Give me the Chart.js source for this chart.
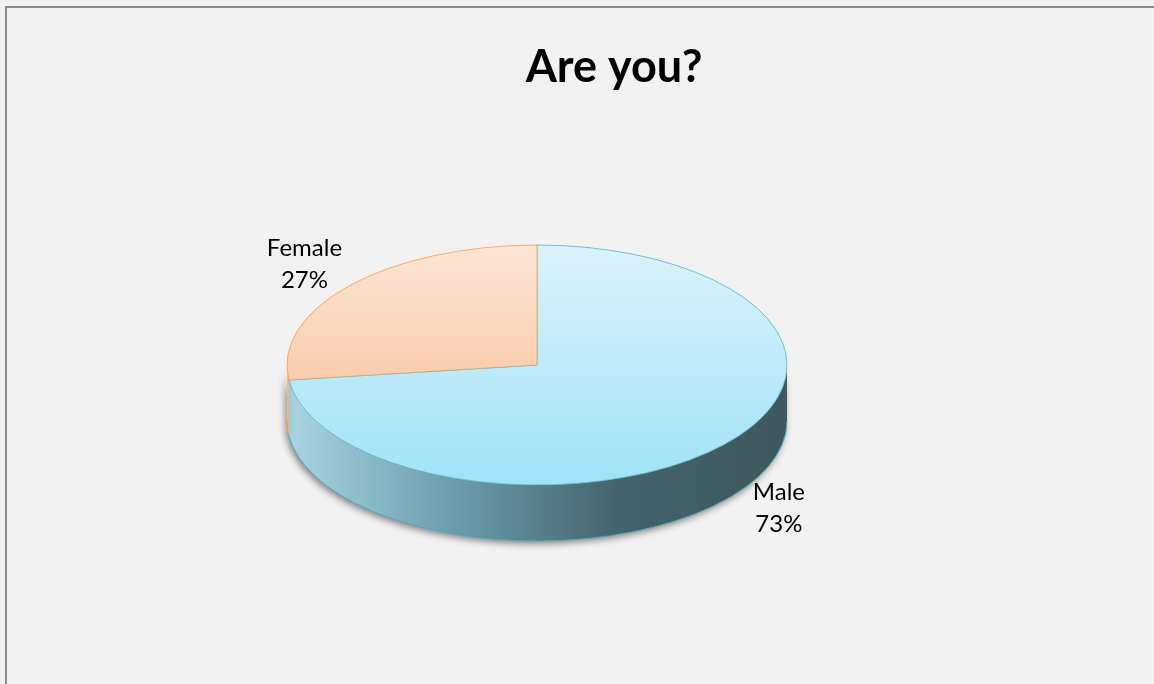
<!DOCTYPE html>
<html>
<head>
<meta charset="utf-8">
<title>Are you?</title>
<script src="https://cdn.jsdelivr.net/npm/chart.js@4.4.0/dist/chart.umd.min.js"></script>
<style>
  html, body { margin: 0; padding: 0; background: #f2f2f2; }
  canvas { display: block; }
</style>
</head>
<body>
<canvas id="mygraph" width="1154" height="684"></canvas>
<script>
const labels = ['Male', 'Female'];
const answers = [73, 27];
const chartTitle = 'Are you?';

// slice colours: top face (light -> dark), side wall stops, outline
const topColors = [['#dcf2fa', '#9fe3f8'], ['#fbe5d6', '#f9b98a']];
const wallColors = [['#a9d5e1', '#6b9dac', '#44636b', '#3e585e'], ['#f3b788', '#e39a63', '#c77d45', '#b86f3a']];
const outlineColors = ['#4bacc6', '#f79646'];

const SQUASH = 0.48;  // vertical tilt of the disc
const DEPTH = 56;     // thickness of the side wall, px
const RADIUS = 250;

const pie3d = {
  id: 'pie3d',
  beforeDraw(chart) {
    const {ctx, width, height} = chart;
    ctx.save();
    ctx.fillStyle = '#f2f2f2';
    ctx.fillRect(0, 0, width, height);
    ctx.fillStyle = '#8a8a8a';
    ctx.fillRect(5, 6, width - 5, 2);
    ctx.fillRect(5, 6, 2, height - 6);
    ctx.restore();
  },
  beforeDatasetsDraw(chart) {
    const ctx = chart.ctx;
    const arcs = chart.getDatasetMeta(0).data;
    const cx = arcs[0].x, cy = arcs[0].y, r = arcs[0].outerRadius;
    const ry = r * SQUASH;

    // side wall: only the front half of each slice is visible
    ctx.save();
    arcs.forEach((arc, i) => {
      for (let k = -1; k <= 1; k++) {
        const a = Math.max(arc.startAngle, 2 * Math.PI * k);
        const b = Math.min(arc.endAngle, 2 * Math.PI * k + Math.PI);
        if (b <= a) continue;
        const g = ctx.createLinearGradient(cx - r, 0, cx + r, 0);
        const stops = wallColors[i];
        stops.forEach((c, j) => g.addColorStop(j / (stops.length - 1), c));
        ctx.beginPath();
        ctx.ellipse(cx, cy, r, ry, 0, a, b);
        ctx.ellipse(cx, cy + DEPTH, r, ry, 0, b, a, true);
        ctx.closePath();
        ctx.shadowColor = 'rgba(0,0,0,0.45)';
        ctx.shadowBlur = 7;
        ctx.shadowOffsetX = -2;
        ctx.shadowOffsetY = 3;
        ctx.fillStyle = g;
        ctx.fill();
        ctx.shadowColor = 'transparent';
        ctx.beginPath();
        ctx.ellipse(cx, cy + DEPTH, r, ry, 0, a, b);
        ctx.strokeStyle = outlineColors[i];
        ctx.lineWidth = 1;
        ctx.stroke();
      }
    });
    ctx.restore();

    // squash the top face into an ellipse
    ctx.save();
    ctx.translate(cx, cy);
    ctx.scale(1, SQUASH);
    ctx.translate(-cx, -cy);
  },
  afterDatasetsDraw(chart) {
    const ctx = chart.ctx;
    ctx.restore();

    const arcs = chart.getDatasetMeta(0).data;
    const total = answers.reduce((s, v) => s + v, 0);
    ctx.save();
    ctx.fillStyle = '#000';
    ctx.textAlign = 'center';
    ctx.textBaseline = 'middle';
    ctx.font = '24px Lato';
    arcs.forEach((arc, i) => {
      const mid = (arc.startAngle + arc.endAngle) / 2;
      const ux = Math.cos(mid), uy = Math.sin(mid);
      const back = uy < 0;
      const x = arc.x + arc.outerRadius * ux * (back ? 1.24 : 1.29);
      const y = arc.y + arc.outerRadius * SQUASH * uy * (back ? 1.27 : 1.1) + (back ? 0 : DEPTH);
      ctx.fillText(labels[i], x, y - 16);
      ctx.fillText(Math.round(answers[i] / total * 100) + '%', x, y + 16);
    });

    ctx.font = 'bold 45px Lato';
    ctx.fillText(chartTitle, 614, 67);
    ctx.restore();
  }
};

function topFill(i) {
  return (c) => {
    const area = c.chart.chartArea;
    if (!area) return topColors[i][1];
    const cy = (area.top + area.bottom) / 2;
    const g = c.chart.ctx.createLinearGradient(0, cy - RADIUS, 0, cy + RADIUS);
    g.addColorStop(0, topColors[i][0]);
    g.addColorStop(1, topColors[i][1]);
    return g;
  };
}

const data = {
  labels: labels,
  datasets: [{
    data: answers,
    backgroundColor: (c) => topFill(c.dataIndex)(c),
    borderColor: outlineColors,
    borderWidth: 1,
    clip: false
  }]
};

const config = {
  type: 'pie',
  data,
  options: {
    responsive: false,
    animation: false,
    events: [],
    radius: RADIUS,
    layout: { padding: { left: 0, right: 80, top: 46, bottom: 0 } },
    plugins: {
      legend: { display: false },
      title: { display: false },
      tooltip: { enabled: false }
    }
  },
  plugins: [pie3d]
};

const mygraph = new Chart(document.getElementById('mygraph'), config);
</script>
</body>
</html>
